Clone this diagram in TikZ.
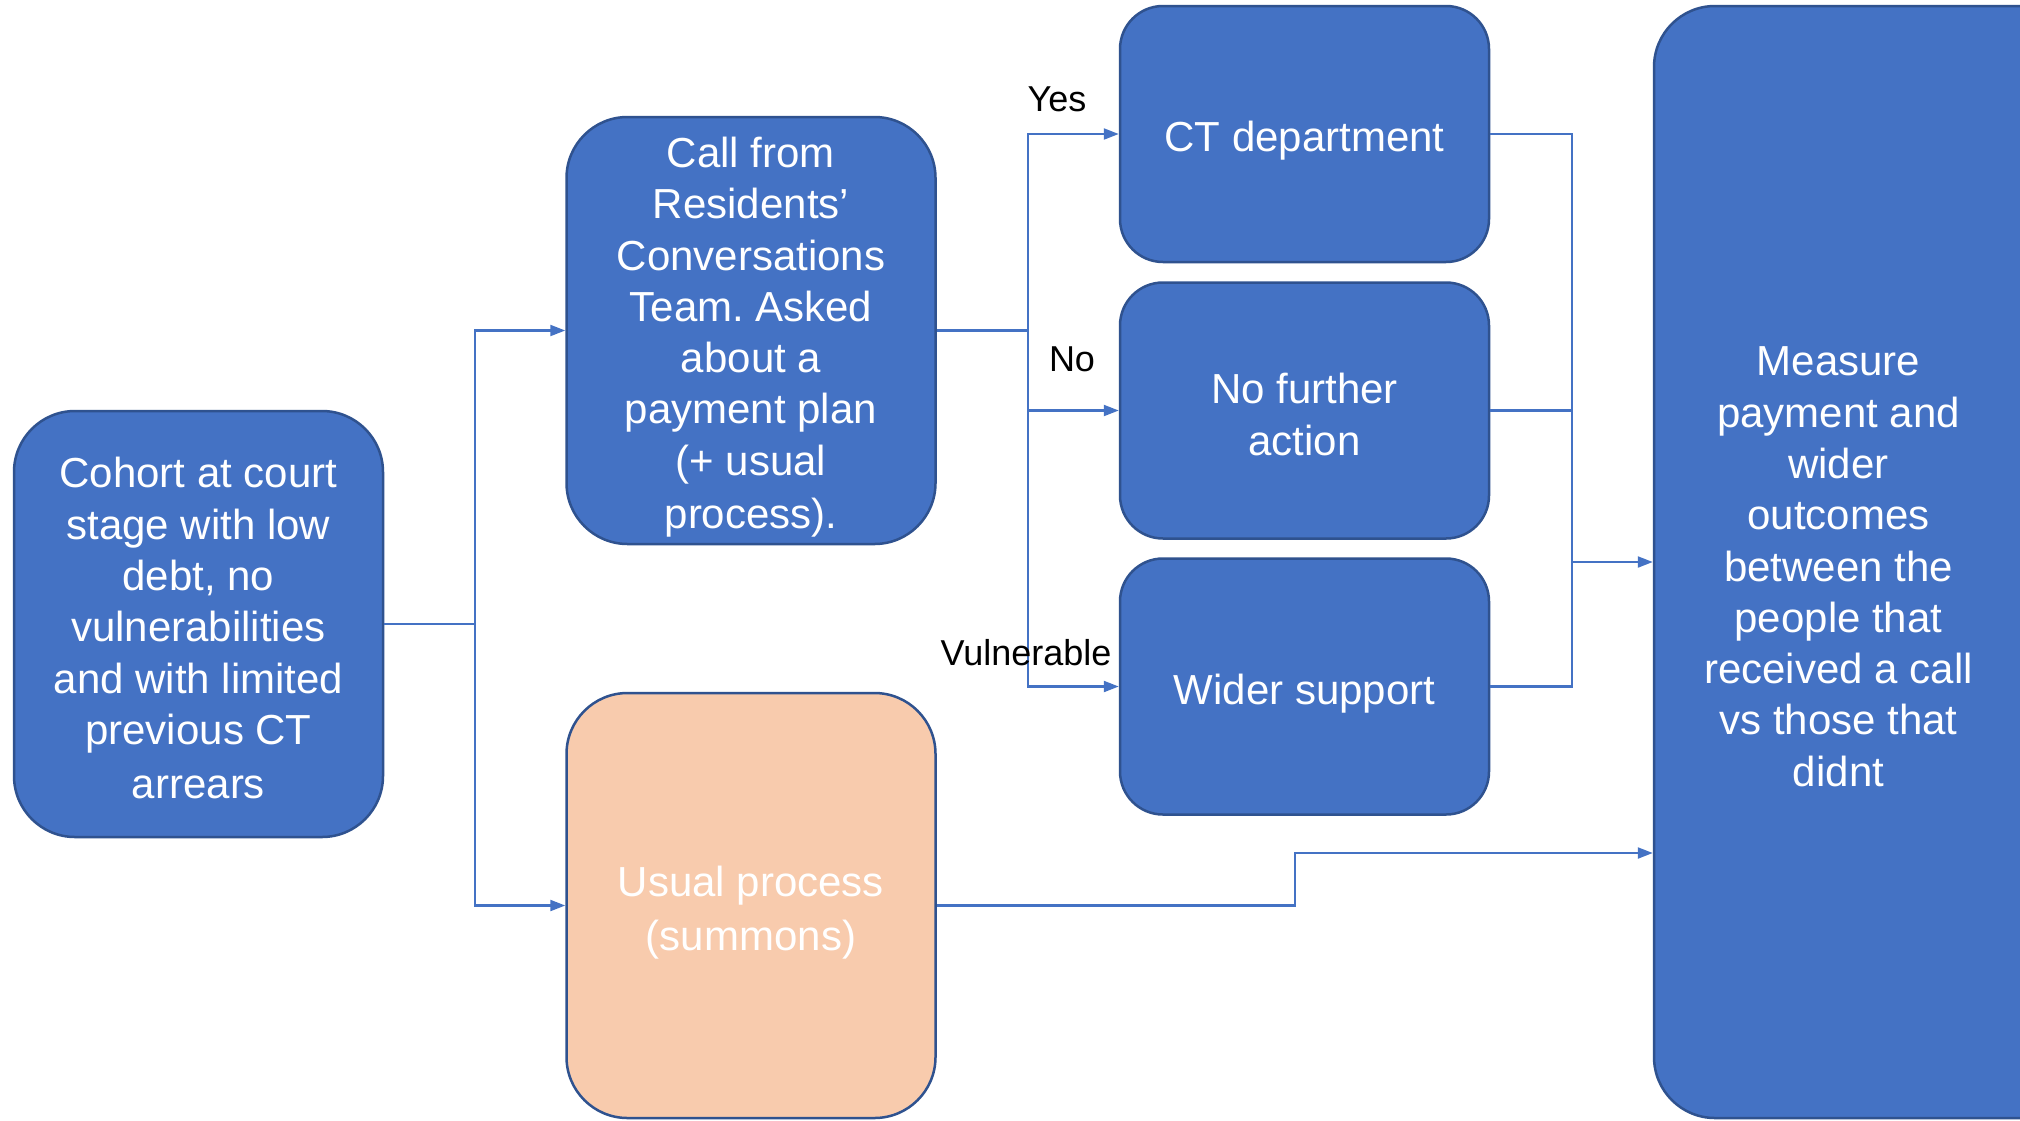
\documentclass[tikz,border=0pt]{standalone}
\usepackage{fontspec}
\setmainfont{Liberation Sans}
\frenchspacing
\usetikzlibrary{arrows.meta}
\definecolor{boxblue}{HTML}{4472C4}
\definecolor{boxedge}{HTML}{2F528F}
\definecolor{peach}{HTML}{F8CBAD}
\newcommand\ms{\rule[-6pt]{0pt}{50pt}}
\begin{document}
\begin{tikzpicture}[x=1pt,y=-1pt,
  boxtext/.style={text=white, align=center, inner sep=0pt,
    font=\fontsize{42}{51.3}\selectfont},
  box/.style={draw=boxedge, line width=2.5pt, fill=boxblue, boxtext},
  bigbox/.style={box, rounded corners=61pt, minimum width=369pt},
  smallbox/.style={box, rounded corners=43pt, minimum width=369pt, minimum height=256pt},
  conn/.style={draw=boxblue, line width=2.2pt},
  arr/.style={conn, -{Triangle[length=15pt,width=11pt]}},
  lab/.style={text=black, font=\fontsize{36}{40}\selectfont, inner sep=0pt}]
\useasboundingbox (0,0) rectangle (2020,1120);
\clip (0,0) rectangle (2020,1120);
\fill[white] (0,0) rectangle (2020,1120);

\node[bigbox, minimum height=426pt] (cohort) at (198.5,624)
  {\ms Cohort at court\\stage with low\\debt, no\\vulnerabilities\\and with limited\\previous CT\\arrears\ms};
\node[bigbox, minimum height=427pt] (call) at (751,330.5)
  {\ms Call from\\Residents’\\Conversations\\Team. Asked\\about a\\payment plan\\(+ usual\\process).\ms};
\node[bigbox, minimum height=425pt, fill=peach] (usual) at (751,905.5)
  {\ms Usual process\\(summons)\ms};
\node[smallbox] (ct) at (1304.5,134) {\ms CT department\ms};
\node[smallbox] (nfa) at (1304.5,410.5) {\ms No further\\action\ms};
\node[smallbox] (ws) at (1304.5,686.5) {\ms Wider support\ms};
\node[bigbox, minimum width=440pt, minimum height=1112pt,
  label={[boxtext, xshift=-35.5pt]center:{\ms Measure\\payment and\\wider\\outcomes\\between the\\people that\\received a call\\vs those that\\didnt\ms}}]
  (meas) at (1874,562) {};

\coordinate (j1) at (475,624);
\coordinate (j2) at (1028,330.5);
\coordinate (j3) at (1572,562);
\coordinate (j4) at (1295,853);

\draw[conn] (cohort.east) -- (j1);
\draw[arr] (j1) |- (call.west);
\draw[arr] (j1) |- (usual.west);

\draw[conn] (call.east) -- (j2);
\draw[arr] (j2) |- (ct.west);
\draw[arr] (j2) |- (nfa.west);
\draw[arr] (j2) |- (ws.west);

\draw[conn] (ct.east) -| (j3);
\draw[conn] (ws.east) -| (j3);
\draw[conn] (nfa.east) -- (nfa.east -| j3);
\draw[arr] (j3) -- (j3 -| meas.west);

\draw[arr] (usual.east) -| (j4) -- (j4 -| meas.west);

\node[lab] (lyes) at (1057,99) {Yes};
\node[lab] (lno) at (1072,359) {No};
\node[lab] (lvul) at (1026,653) {Vulnerable};
\end{tikzpicture}
\end{document}
